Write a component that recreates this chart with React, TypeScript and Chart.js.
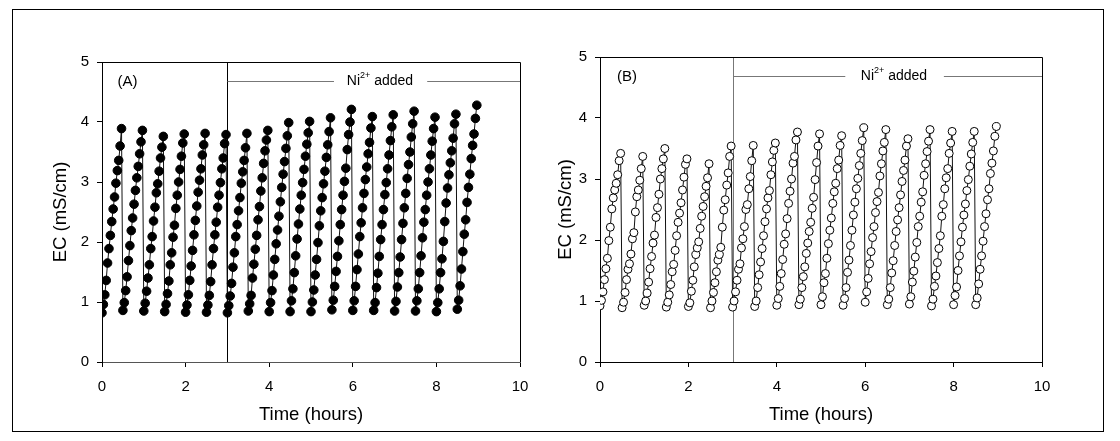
import React, { useEffect, useRef } from "react";
import { Chart, registerables } from "chart.js";

Chart.register(...registerables);

// ---------- data ----------
const CYCLE_STARTS = [0, 0.5, 1, 1.5, 2, 2.5, 3, 3.5, 4, 4.5, 5, 5.5, 6, 6.5, 7, 7.5, 8, 8.5];
const SAMPLE_OFFSETS = [0, 0.033, 0.067, 0.1, 0.133, 0.167, 0.2, 0.233, 0.267, 0.3, 0.333, 0.367, 0.4, 0.433, 0.467];

const EC_A_CYCLES = [
  [0.82, 0.96, 1.12, 1.36, 1.65, 1.89, 2.11, 2.34, 2.55, 2.75, 2.98, 3.19, 3.36, 3.6, 3.89],
  [0.86, 0.99, 1.19, 1.42, 1.69, 1.94, 2.19, 2.4, 2.63, 2.86, 3.07, 3.26, 3.47, 3.67, 3.86],
  [0.85, 0.98, 1.18, 1.4, 1.62, 1.89, 2.09, 2.35, 2.58, 2.82, 2.97, 3.18, 3.4, 3.58, 3.76],
  [0.84, 0.96, 1.14, 1.35, 1.62, 1.82, 2.08, 2.28, 2.56, 2.78, 3.0, 3.21, 3.43, 3.65, 3.8],
  [0.83, 0.95, 1.12, 1.36, 1.6, 1.86, 2.12, 2.36, 2.6, 2.83, 3.03, 3.22, 3.45, 3.62, 3.81],
  [0.83, 0.95, 1.11, 1.34, 1.62, 1.89, 2.12, 2.33, 2.58, 2.78, 2.99, 3.22, 3.4, 3.64, 3.79],
  [0.82, 0.94, 1.1, 1.31, 1.58, 1.82, 2.09, 2.29, 2.52, 2.74, 2.98, 3.17, 3.36, 3.57, 3.81],
  [0.85, 0.97, 1.11, 1.4, 1.63, 1.88, 2.11, 2.37, 2.59, 2.85, 3.07, 3.31, 3.52, 3.7, 3.86],
  [0.84, 0.99, 1.19, 1.45, 1.71, 1.97, 2.2, 2.43, 2.67, 2.91, 3.13, 3.34, 3.56, 3.77, 3.99],
  [0.84, 1.02, 1.22, 1.49, 1.77, 2.05, 2.3, 2.55, 2.78, 2.99, 3.21, 3.43, 3.63, 3.82, 4.01],
  [0.84, 1.0, 1.2, 1.45, 1.71, 1.99, 2.27, 2.52, 2.74, 2.97, 3.18, 3.41, 3.62, 3.84, 4.07],
  [0.87, 1.03, 1.26, 1.51, 1.76, 2.02, 2.29, 2.54, 2.78, 3.01, 3.23, 3.54, 3.79, 4.0, 4.21],
  [0.86, 1.02, 1.26, 1.54, 1.8, 2.09, 2.32, 2.57, 2.81, 3.04, 3.25, 3.47, 3.66, 3.9, 4.09],
  [0.86, 0.99, 1.24, 1.48, 1.76, 2.04, 2.29, 2.54, 2.79, 2.99, 3.22, 3.45, 3.69, 3.92, 4.12],
  [0.85, 1.01, 1.25, 1.49, 1.75, 2.04, 2.31, 2.57, 2.81, 3.06, 3.29, 3.5, 3.75, 3.97, 4.18],
  [0.85, 1.02, 1.22, 1.49, 1.77, 2.07, 2.33, 2.54, 2.78, 3.0, 3.22, 3.45, 3.68, 3.89, 4.08],
  [0.84, 0.99, 1.22, 1.49, 1.72, 2.01, 2.34, 2.65, 2.9, 3.12, 3.32, 3.52, 3.73, 3.97, 4.13],
  [0.88, 1.03, 1.27, 1.55, 1.84, 2.13, 2.37, 2.66, 2.91, 3.13, 3.39, 3.61, 3.8, 4.06, 4.28],
];

const EC_B_CYCLES = [
  [0.92, 1.01, 1.15, 1.35, 1.53, 1.7, 1.99, 2.21, 2.51, 2.69, 2.82, 2.93, 3.07, 3.3, 3.42],
  [0.89, 0.98, 1.14, 1.35, 1.52, 1.61, 1.77, 2.02, 2.12, 2.46, 2.71, 2.82, 2.98, 3.17, 3.37],
  [0.93, 1.0, 1.13, 1.31, 1.53, 1.73, 1.95, 2.08, 2.37, 2.53, 2.75, 3.0, 3.17, 3.33, 3.5],
  [0.9, 0.98, 1.1, 1.27, 1.48, 1.6, 1.83, 2.07, 2.29, 2.44, 2.61, 2.82, 3.03, 3.24, 3.33],
  [0.91, 0.97, 1.16, 1.34, 1.56, 1.76, 1.87, 1.97, 2.19, 2.39, 2.55, 2.71, 2.88, 3.02, 3.25],
  [0.89, 1.0, 1.14, 1.3, 1.48, 1.67, 1.76, 1.88, 2.21, 2.49, 2.66, 2.9, 3.1, 3.37, 3.54],
  [0.9, 1.0, 1.15, 1.34, 1.52, 1.61, 1.87, 2.02, 2.22, 2.5, 2.58, 2.84, 3.04, 3.3, 3.55],
  [0.91, 1.0, 1.22, 1.43, 1.64, 1.86, 2.07, 2.3, 2.51, 2.69, 2.81, 3.07, 3.28, 3.47, 3.59],
  [0.93, 1.04, 1.24, 1.45, 1.68, 1.93, 2.1, 2.35, 2.6, 2.8, 3.0, 3.26, 3.37, 3.64, 3.77],
  [0.94, 1.03, 1.22, 1.4, 1.56, 1.78, 1.95, 2.14, 2.29, 2.52, 2.7, 2.99, 3.27, 3.54, 3.74],
  [0.94, 1.07, 1.3, 1.45, 1.7, 1.94, 2.16, 2.36, 2.6, 2.79, 2.93, 3.17, 3.31, 3.55, 3.71],
  [0.93, 1.04, 1.22, 1.47, 1.67, 1.91, 2.16, 2.41, 2.62, 2.84, 3.01, 3.22, 3.42, 3.63, 3.84],
  [0.98, 1.15, 1.37, 1.61, 1.81, 2.04, 2.22, 2.45, 2.63, 2.78, 3.05, 3.25, 3.46, 3.6, 3.81],
  [0.94, 1.03, 1.22, 1.46, 1.66, 1.91, 2.14, 2.33, 2.53, 2.74, 2.96, 3.14, 3.31, 3.54, 3.66],
  [0.95, 1.07, 1.31, 1.49, 1.72, 1.96, 2.22, 2.39, 2.62, 2.79, 3.06, 3.25, 3.45, 3.62, 3.81],
  [0.92, 1.03, 1.24, 1.41, 1.63, 1.86, 2.07, 2.39, 2.58, 2.84, 3.02, 3.17, 3.42, 3.59, 3.78],
  [0.94, 1.09, 1.23, 1.5, 1.74, 1.97, 2.21, 2.41, 2.59, 2.81, 2.99, 3.21, 3.41, 3.6, 3.78],
  [0.94, 1.05, 1.28, 1.52, 1.74, 1.98, 2.22, 2.43, 2.66, 2.84, 3.09, 3.26, 3.46, 3.7, 3.86],
];

const X_MIN = 0;
const X_MAX = 10;
const X_STEP = 2;
const Y_MIN = 0;
const Y_MAX = 5;
const Y_STEP = 1;

const X_TITLE = "Time (hours)";
const Y_TITLE = "EC (mS/cm)";

// annotation (data coordinates)
const NI_ADDED_TIME = 3;
const NI_LINE_Y = 4.69;
const NI_GAP_START = 5.55;
const NI_GAP_END = 7.78;
const NI_LABEL_X = 6.65;
const PANEL_LABEL_X = 0.61;
const PANEL_LABEL_Y = 4.67;

const FONT = "'Liberation Sans', Arial, Helvetica, sans-serif";

function buildPoints(cycles: number[][]) {
  const pts: { x: number; y: number }[] = [];
  cycles.forEach((cyc, i) => {
    cyc.forEach((v, j) => {
      pts.push({ x: CYCLE_STARTS[i] + SAMPLE_OFFSETS[j], y: v });
    });
  });
  return pts;
}

type PanelOpts = {
  label: string;
  filled: boolean;
  cycles: number[][];
  vlineColor: string;
  padTop: number;
  padRight: number;
  yAxisWidth: number;
  yTitlePad: number;
  bottomAxisColor: string;
  pointRadius: number;
};

function annotationPlugin(o: PanelOpts) {
  return {
    id: "niAnnot",
    beforeDatasetsDraw(chart: any) {
      const { ctx, chartArea, scales } = chart;
      const xs = scales.x;
      const ys = scales.y;
      ctx.save();
      const vx = Math.round(xs.getPixelForValue(NI_ADDED_TIME)) + 0.5;
      ctx.strokeStyle = o.vlineColor;
      ctx.lineWidth = 1;
      ctx.beginPath();
      ctx.moveTo(vx, ys.getPixelForValue(Y_MAX));
      ctx.lineTo(vx, ys.getPixelForValue(Y_MIN));
      ctx.stroke();
      const hy = Math.round(ys.getPixelForValue(NI_LINE_Y)) + 0.5;
      ctx.strokeStyle = "#777";
      ctx.beginPath();
      ctx.moveTo(vx, hy);
      ctx.lineTo(xs.getPixelForValue(NI_GAP_START), hy);
      ctx.moveTo(xs.getPixelForValue(NI_GAP_END), hy);
      ctx.lineTo(chartArea.right, hy);
      ctx.stroke();
      ctx.fillStyle = "#000";
      ctx.textBaseline = "middle";
      ctx.textAlign = "left";
      const big = `14px ${FONT}`;
      const small = `9px ${FONT}`;
      ctx.font = big;
      const w1 = ctx.measureText("Ni").width;
      const w3 = ctx.measureText(" added").width;
      ctx.font = small;
      const w2 = ctx.measureText("2+").width;
      const total = w1 + w2 + w3;
      let tx = xs.getPixelForValue(NI_LABEL_X) - total / 2;
      ctx.font = big;
      ctx.fillText("Ni", tx, hy);
      tx += w1;
      ctx.font = small;
      ctx.fillText("2+", tx, hy - 6);
      tx += w2;
      ctx.font = big;
      ctx.fillText(" added", tx, hy);
      ctx.font = `15px ${FONT}`;
      ctx.textAlign = "center";
      ctx.fillText(o.label, xs.getPixelForValue(PANEL_LABEL_X), ys.getPixelForValue(PANEL_LABEL_Y));
      ctx.restore();
    },
    afterDraw(chart: any) {
      const { ctx, chartArea } = chart;
      ctx.save();
      ctx.strokeStyle = "#000";
      ctx.lineWidth = 1;
      ctx.beginPath();
      ctx.moveTo(chartArea.left, chartArea.top + 0.5);
      ctx.lineTo(chartArea.right + 0.5, chartArea.top + 0.5);
      ctx.lineTo(chartArea.right + 0.5, chartArea.bottom);
      ctx.stroke();
      ctx.restore();
    },
  };
}

function Panel(props: { left: number; width: number; opts: PanelOpts }) {
  const ref = useRef<HTMLCanvasElement | null>(null);
  const { left, width, opts } = props;
  useEffect(() => {
    if (!ref.current) return;
    const chart = new Chart(ref.current, {
      type: "line",
      data: {
        datasets: [
          {
            data: buildPoints(opts.cycles),
            borderColor: "#111",
            borderWidth: 1,
            pointRadius: opts.pointRadius,
            pointBackgroundColor: opts.filled ? "#000" : "#fff",
            pointBorderColor: "#000",
            pointBorderWidth: 1,
            tension: 0,
            fill: false,
          },
        ],
      },
      options: {
        responsive: false,
        animation: false,
        devicePixelRatio: 1,
        layout: { padding: { left: 0, top: opts.padTop, right: opts.padRight, bottom: 0 } },
        plugins: { legend: { display: false }, tooltip: { enabled: false } },
        scales: {
          x: {
            type: "linear",
            min: X_MIN,
            max: X_MAX,
            afterFit: (s: any) => {
              s.height = 441 - 362;
            },
            ticks: {
              stepSize: X_STEP,
              color: "#000",
              font: { family: FONT, size: 15 },
              padding: 11,
              maxRotation: 0,
            },
            grid: { display: true, drawOnChartArea: false, drawTicks: true, tickLength: 5, color: "#000" },
            border: { display: true, color: opts.bottomAxisColor, width: 1 },
            title: {
              display: true,
              text: X_TITLE,
              color: "#000",
              font: { family: FONT, size: 18.5 },
              padding: { top: 0, bottom: 15 },
            },
          },
          y: {
            type: "linear",
            min: Y_MIN,
            max: Y_MAX,
            afterFit: (s: any) => {
              s.width = opts.yAxisWidth;
            },
            ticks: {
              stepSize: Y_STEP,
              color: "#000",
              font: { family: FONT, size: 15 },
              padding: 8,
            },
            grid: { display: true, drawOnChartArea: false, drawTicks: true, tickLength: 5, color: "#000" },
            border: { display: true, color: "#000", width: 1 },
            title: {
              display: true,
              text: Y_TITLE,
              color: "#000",
              font: { family: FONT, size: 18.5 },
              padding: { top: opts.yTitlePad, bottom: 0 },
            },
          },
        },
      },
      plugins: [annotationPlugin(opts)],
    } as any);
    return () => chart.destroy();
  }, []);
  return (
    <canvas
      ref={ref}
      width={width}
      height={441}
      style={{ position: "absolute", left, top: 0, width, height: 441 }}
    />
  );
}

export default function App() {
  const optsA: PanelOpts = {
    label: "(A)",
    filled: true,
    cycles: EC_A_CYCLES,
    vlineColor: "#000",
    padTop: 62,
    padRight: 40,
    yAxisWidth: 102,
    yTitlePad: 50,
    bottomAxisColor: "#555",
    pointRadius: 4.3,
  };
  const optsB: PanelOpts = {
    label: "(B)",
    filled: false,
    cycles: EC_B_CYCLES,
    vlineColor: "#777",
    padTop: 57,
    padRight: 78,
    yAxisWidth: 80,
    yTitlePad: 35,
    bottomAxisColor: "#000",
    pointRadius: 4,
  };
  return (
    <div style={{ position: "absolute", left: 0, top: 0, width: 1120, height: 441, background: "#fff" }}>
      <div
        style={{
          position: "absolute",
          left: 12,
          top: 9,
          width: 1092,
          height: 423,
          border: "1px solid #000",
          boxSizing: "border-box",
        }}
      />
      <Panel left={0} width={560} opts={optsA} />
      <Panel left={520} width={600} opts={optsB} />
    </div>
  );
}
